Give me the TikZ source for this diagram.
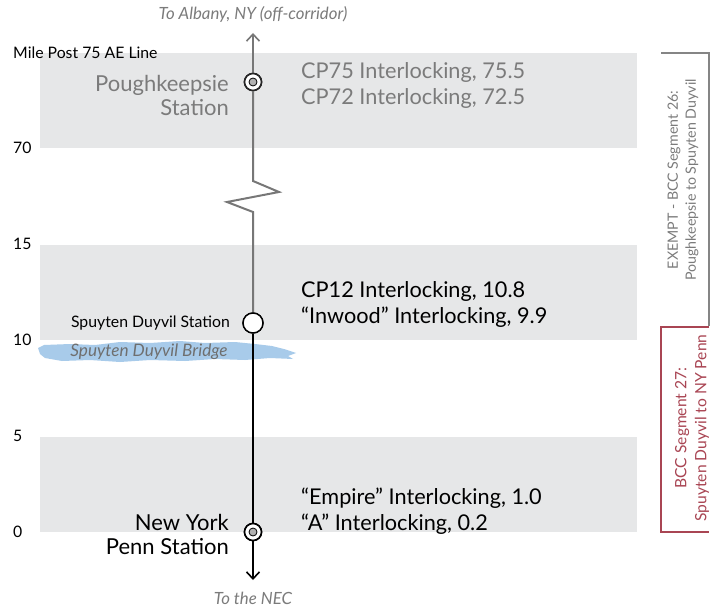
\documentclass[tikz,border=0pt]{standalone}
\usepackage{fontspec}
\setmainfont{Lato}
\usetikzlibrary{arrows.meta}
\definecolor{band}{HTML}{E6E7E8}
\definecolor{linegray}{HTML}{777777}
\definecolor{txtgray}{HTML}{7B7B7B}
\definecolor{bridgeblue}{HTML}{A8CBEA}
\definecolor{segred}{HTML}{A94553}
\tikzset{
  axislabel/.style={anchor=west, font=\fontsize{15.8}{18}\selectfont, inner sep=0pt},
  biglabel/.style={align=left, anchor=west, font=\fontsize{21.7}{26}\selectfont, inner sep=0pt},
  stationlabel/.style={align=right, anchor=east, font=\fontsize{22}{24}\selectfont, inner sep=0pt},
  notelabel/.style={font=\itshape\fontsize{16.8}{18}\selectfont, text=txtgray, inner sep=0pt},
  majorstop/.style={circle, draw=black, fill=white, line width=1.6pt, minimum size=17pt, inner sep=0pt},
  stopcore/.style={circle, draw=black, fill=gray!60, line width=0.8pt, minimum size=8pt, inner sep=0pt},
  minorstop/.style={circle, draw=black, fill=white, line width=1.4pt, minimum size=20pt, inner sep=0pt},
  trackline/.style={line width=2pt},
  tip/.style={-{Straight Barb[length=7pt,width=13pt,line width=1.6pt]}},
  seglabel/.style={rotate=90, align=center, inner sep=0pt},
}
\begin{document}
\begin{tikzpicture}[x=1pt,y=-1pt]
\path[use as bounding box, fill=white] (0,0) rectangle (727,609);

% mile-post bands
\fill[band] (40,53) rectangle (637,148);
\fill[band] (40,245) rectangle (637,340);
\fill[band] (40,437) rectangle (637,532);

% axis labels
\node[axislabel] (mp75) at (13,53) {Mile Post 75 AE Line};
\node[axislabel] (mp70) at (13,148) {70};
\node[axislabel] (mp15) at (13,244) {15};
\node[axislabel] (mp10) at (13,340) {10};
\node[axislabel] (mp5) at (13,436) {5};
\node[axislabel] (mp0) at (13,532) {0};

% brushed river band under the bridge label
\fill[bridgeblue] (38,348) -- (44,345) -- (70,344) -- (95,345) -- (120,342) -- (150,343)
  -- (180,341) -- (205,343) -- (235,342) -- (255,344) -- (272,346) -- (284,349)
  -- (296,353) -- (288,356) -- (293,359) -- (270,358) -- (245,360) -- (215,359)
  -- (185,361) -- (150,360) -- (120,362) -- (90,360) -- (62,361) -- (45,358)
  -- (40,354) -- cycle;
\node[notelabel, font=\itshape\fontsize{17.2}{18}\selectfont, text=txtgray!90!black] (bridge) at (149,352) {Spuyten Duyvil Bridge};

% stations
\node[majorstop] (pk) at (253,82) {};
\node[minorstop] (sd) at (253,323) {};
\node[majorstop] (ny) at (253,532) {};
\coordinate (north) at (253,33);
\coordinate (south) at (253,580);
\coordinate (z1) at (253,181);
\coordinate (z2) at (279,192);
\coordinate (z3) at (227,202);
\coordinate (z4) at (253,212);

% track
\draw[trackline, linegray, tip] (pk) -- (north);
\draw[trackline, linegray, line join=miter] (pk) -- (z1) -- (z2) -- (z3) -- (z4) -- (sd);
\draw[trackline, black] (sd) -- (ny);
\draw[trackline, black, tip] (ny) -- (south);

% redraw stations on top of the track
\node[majorstop, draw=black!85] at (pk) {};
\node[stopcore] (pkcore) at (pk) {};
\node[minorstop] at (sd) {};
\node[majorstop] at (ny) {};
\node[stopcore] (nycore) at (ny) {};

% end notes
\node[notelabel] (albany) at (253,14) {To Albany, NY (off-corridor)};
\node[notelabel] (nec) at (253,598) {To the NEC};

% station names
\node[stationlabel, text=txtgray] (pklab) at (229,95) {Poughkeepsie\\Station};
\node[axislabel, anchor=east] (sdlab) at (230,323) {Spuyten Duyvil Station};
\node[stationlabel] (nylab) at (229,534) {New York\\Penn Station};

% interlockings
\node[biglabel, text=txtgray] (cp75) at (301,85) {CP75 Interlocking, 75.5\\CP72 Interlocking, 72.5};
\node[biglabel] (cp12) at (301,304) {CP12 Interlocking, 10.8\\“Inwood” Interlocking, 9.9};
\node[biglabel] (empire) at (301,511) {“Empire” Interlocking, 1.0\\“A” Interlocking, 0.2};

% segment brackets
\draw[linegray!90, line width=1.4pt] (661,53) -- (709,53) -- (709,326);
\draw[segred, line width=1.4pt] (709,327) -- (661,327) -- (661,532) -- (709,532);
\node[seglabel, text=txtgray, font=\fontsize{14.2}{18}\selectfont] (seg26) at (683,180) {EXEMPT - BCC Segment 26:\\Poughkeepsie to Spuyten Duyvil};
\node[seglabel, text=segred, font=\fontsize{15.6}{20}\selectfont] (seg27) at (692,428) {BCC Segment 27:\\Spuyten Duyvil to NY Penn};
\end{tikzpicture}
\end{document}
